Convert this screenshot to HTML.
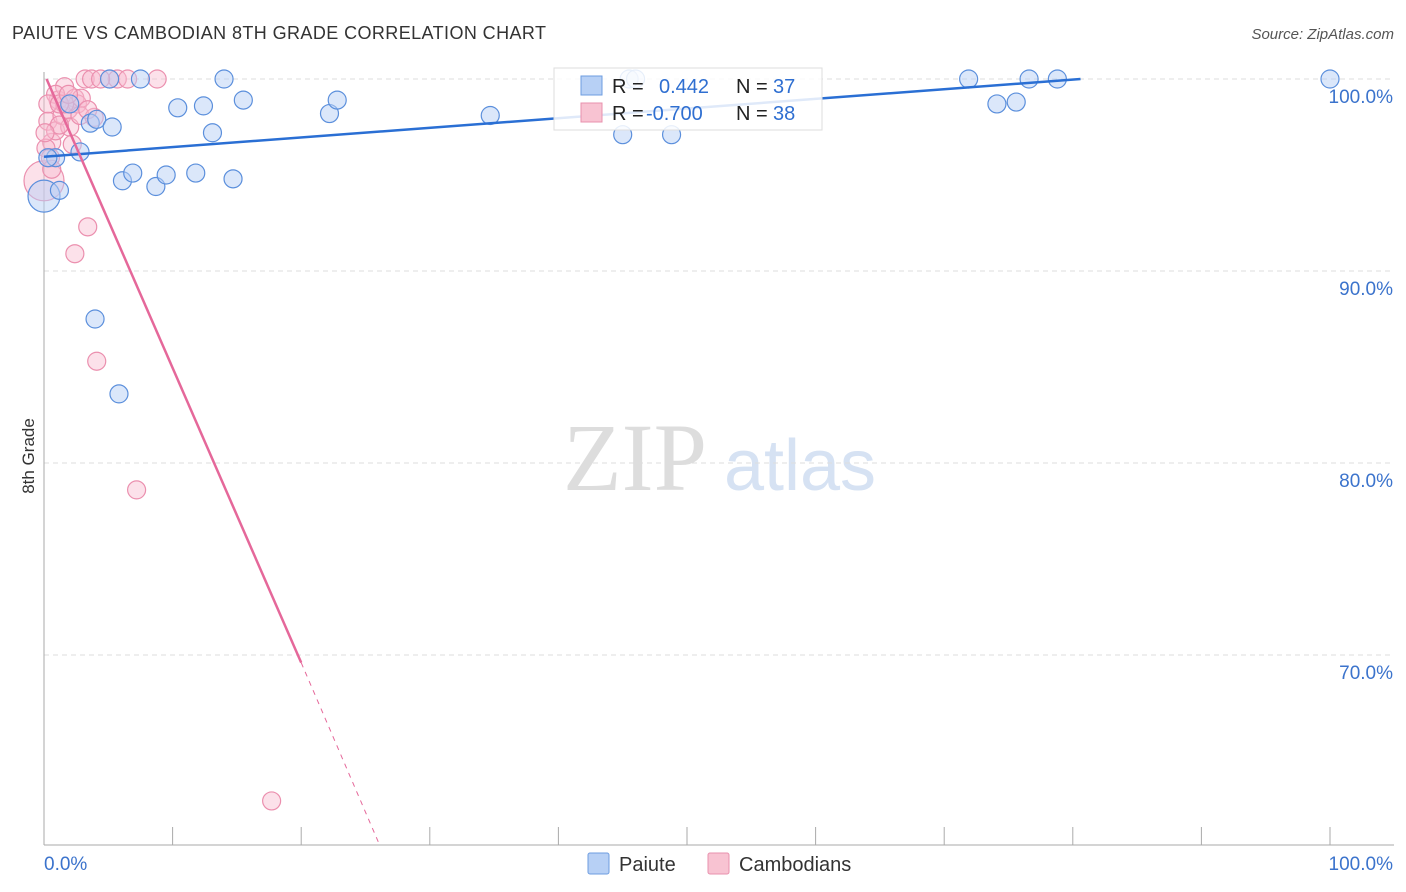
<!DOCTYPE html>
<html><head><meta charset="utf-8">
<style>
body{margin:0;background:#fff;font-family:"Liberation Sans",sans-serif;}
svg{display:block}
</style></head>
<body>
<svg id="chart" width="1406" height="892" xmlns="http://www.w3.org/2000/svg">
<text x="12" y="39" font-size="18" fill="#333" textLength="534">PAIUTE VS CAMBODIAN 8TH GRADE CORRELATION CHART</text>
<text x="1394" y="39" font-size="15" fill="#555" font-style="italic" text-anchor="end">Source: ZipAtlas.com</text>
<text x="34" y="456" font-size="17" fill="#333" text-anchor="middle" transform="rotate(-90 34 456)">8th Grade</text>
<g>
<text x="635" y="490" font-size="96" fill="#ddd" font-family="Liberation Serif,serif" text-anchor="middle">ZIP</text>
<text x="800" y="490" font-size="72" fill="#d6e2f3" text-anchor="middle">atlas</text>
</g>
<g id="grid"></g><g id="axes"></g><g id="pts"></g><g id="trends"></g>
<g>
<rect x="554" y="68" width="268" height="62" fill="#fff" fill-opacity="0.85" stroke="#ddd"/>
<rect x="581" y="76" width="21" height="19" fill="#b7d0f5" stroke="#6e9de0"/>
<rect x="581" y="103" width="21" height="19" fill="#f8c3d2" stroke="#e890ad"/>
<text y="93" font-size="20" fill="#222"><tspan x="612">R =</tspan><tspan x="659" fill="#2f6fd1">0.442</tspan><tspan x="736">N =</tspan><tspan x="773" fill="#2f6fd1">37</tspan></text>
<text y="120" font-size="20" fill="#222"><tspan x="612">R =</tspan><tspan x="646" fill="#2f6fd1">-0.700</tspan><tspan x="736">N =</tspan><tspan x="773" fill="#2f6fd1">38</tspan></text>
</g>
<g>
<rect x="588" y="853" width="21" height="21" fill="#b7d0f5" stroke="#6e9de0" rx="2"/>
<text x="619" y="871" font-size="20" fill="#333">Paiute</text>
<rect x="708" y="853" width="21" height="21" fill="#f8c3d2" stroke="#e890ad" rx="2"/>
<text x="739" y="871" font-size="20" fill="#333">Cambodians</text>
</g>
</svg>
<script>
const yTicks=[100,90,80,70];
const yTickLabels=["100.0%","90.0%","80.0%","70.0%"];
const xEndLabels=["0.0%","100.0%"];
const paiuteX=[0,1.2,0.9,2.8,3.6,4.1,5.3,5.1,7.5,6.1,6.9,8.7,9.5,10.4,11.8,12.4,13.1,14.0,14.7,15.5,22.2,22.8,34.7,45.0,45.5,46.0,48.8,71.9,74.1,75.6,76.6,78.8,100,3.97,5.83,0.3,2.0];
const paiuteY=[93.9,94.2,95.9,96.2,97.7,97.9,97.5,100,100,94.7,95.1,94.4,95.0,98.5,95.1,98.6,97.2,100,94.8,98.9,98.2,98.9,98.1,97.1,100,100,97.1,100,98.7,98.8,100,100,100,87.5,83.6,95.9,98.7];
const paiuteR=[16,9,9,9,9,9,9,9,9,9,9,9,9,9,9,9,9,9,9,9,9,9,9,9,9,9,9,9,9,9,9,9,9,9,9,9,9];
const cambX=[0,0.3,0.6,0.9,1.1,1.4,1.6,1.9,2.0,2.4,2.6,2.8,3.2,3.7,5.1,5.7,6.5,8.8,1.6,3.4,2.4,4.1,7.2,17.7,0.15,0.5,0.9,1.2,2.2,2.9,3.9,4.4,0.3,0.6,1.2,1.9,3.4,0.08];
const cambY=[94.7,97.8,96.7,97.3,98.9,98.1,99.6,98.4,97.5,99.0,98.7,98.1,100,100,100,100,100,100,98.7,92.3,90.9,85.3,78.6,62.4,96.4,95.9,99.2,97.6,96.6,99.0,98.0,100,98.7,95.3,98.7,99.2,98.4,97.2];
const cambR=[20,9,9,9,9,9,9,9,9,9,9,9,9,9,9,9,9,9,9,9,9,9,9,9,9,9,9,9,9,9,9,9,9,9,9,9,9,9];
const paiuteTrend=[[0,95.95],[80.6,100]];
const cambTrend=[[0.2,100],[20.0,69.6],[26.1,60.1]];
const X0=44,X1=1330,Y100=79,PX=19.2;
const sx=v=>X0+(X1-X0)*v/100, sy=v=>Y100+(100-v)*PX;
const NS="http://www.w3.org/2000/svg";
function mk(p,t,a){const e=document.createElementNS(NS,t);for(const k in a)e.setAttribute(k,a[k]);document.getElementById(p).appendChild(e);return e;}
yTicks.forEach((t,i)=>{
 const l=mk('grid','line',{x1:X0,x2:1394,y1:sy(t),y2:sy(t),stroke:'#ddd','stroke-dasharray':'5,4'});
 
 
 const tx=mk('axes','text',{x:1393,y:sy(t)+24,'font-size':19,fill:'#3b73cc','text-anchor':'end'});
 tx.textContent=yTickLabels[i];
 
 
});
let a=mk('axes','line',{x1:X0,x2:X0,y1:72,y2:845,stroke:'#aaa'});

a=mk('axes','line',{x1:X0,x2:1394,y1:845,y2:845,stroke:'#aaa'});

for(let i=1;i<=10;i++){const t=mk('axes','line',{x1:sx(i*10),x2:sx(i*10),y1:827,y2:845,stroke:'#aaa'});
 }
let t1=mk('axes','text',{x:44,y:870,'font-size':19,fill:'#3b73cc'});t1.textContent=xEndLabels[0];

let t2=mk('axes','text',{x:1393,y:870,'font-size':19,fill:'#3b73cc','text-anchor':'end'});t2.textContent=xEndLabels[1];

cambX.forEach((v,i)=>{const c=mk('pts','circle',{cx:sx(v),cy:sy(cambY[i]),r:cambR[i],fill:'#f8bdd0','fill-opacity':0.45,stroke:'#eb8fae','stroke-width':1.2});
 });
paiuteX.forEach((v,i)=>{const c=mk('pts','circle',{cx:sx(v),cy:sy(paiuteY[i]),r:paiuteR[i],fill:'#b7d0f5','fill-opacity':0.5,stroke:'#5b8fdc','stroke-width':1.2});
 });
let l=mk('trends','line',{x1:sx(paiuteTrend[0][0]),y1:sy(paiuteTrend[0][1]),x2:sx(paiuteTrend[1][0]),y2:sy(paiuteTrend[1][1]),stroke:'#2a6fd4','stroke-width':2.5});

l=mk('trends','line',{x1:sx(cambTrend[0][0]),y1:sy(cambTrend[0][1]),x2:sx(cambTrend[1][0]),y2:sy(cambTrend[1][1]),stroke:'#e5689a','stroke-width':2.5});

l=mk('trends','line',{x1:sx(cambTrend[1][0]),y1:sy(cambTrend[1][1]),x2:sx(cambTrend[2][0]),y2:sy(cambTrend[2][1]),stroke:'#e5689a','stroke-width':1,'stroke-dasharray':'5,5'});

</script>
</body></html>
